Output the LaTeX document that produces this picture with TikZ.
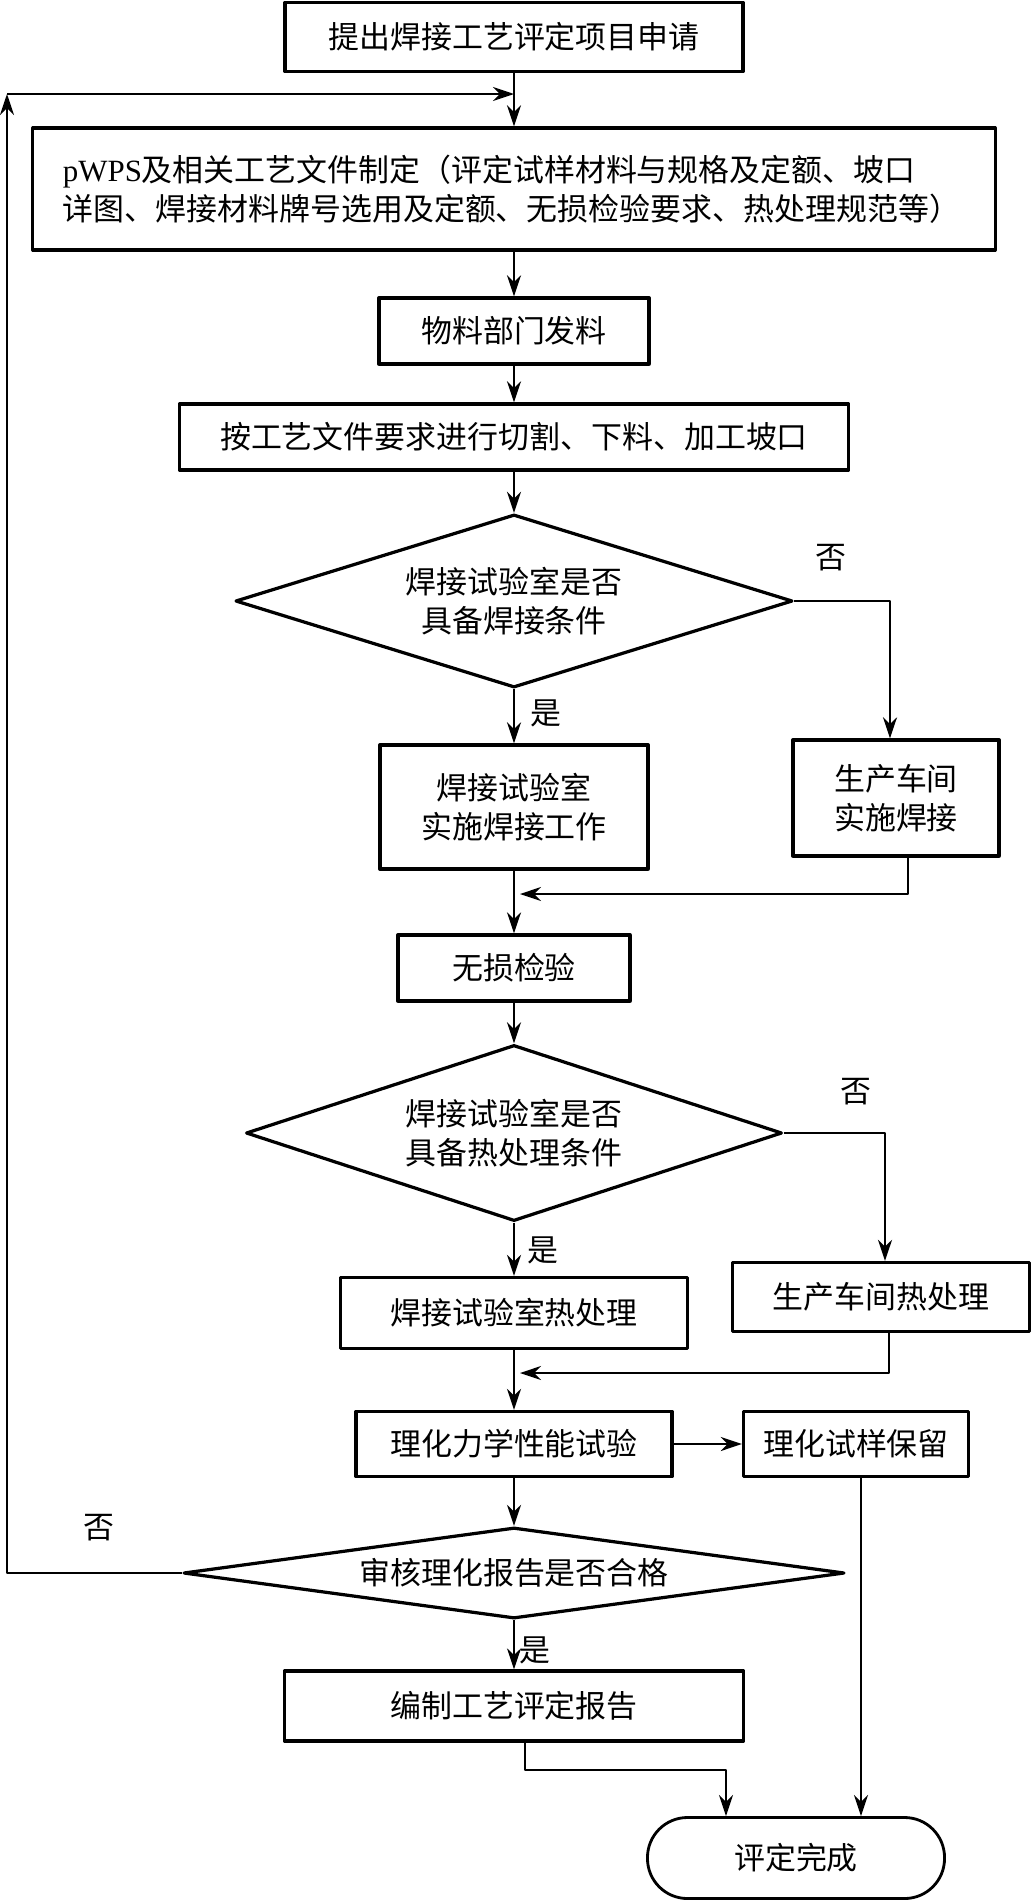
\documentclass[tikz,border=0pt]{standalone}
\usepackage{fontspec}
\setmainfont{Liberation Serif}
\newfontfamily\cjk{Noto Sans CJK SC}
\usetikzlibrary{shapes.geometric,arrows.meta}

\begin{document}
\begin{tikzpicture}[x=0.025cm,y=-0.025cm,line join=round,>={Stealth[length=15pt,width=10pt]},
	font=\cjk\fontsize{22}{28}\selectfont,
	box/.style={draw,line width=2.3pt,rectangle,inner sep=0pt,align=center},
	decision/.style={draw,line width=2.3pt,diamond,inner sep=0pt,align=center},
	terminal/.style={draw,line width=2pt,rectangle,rounded corners=1cm,inner sep=0pt},
	conn/.style={line width=1.4pt}]
		\def \midx{514};
		\useasboundingbox (0,0) rectangle (1032,1900);
		\node[box,minimum width=11.45cm,minimum height=1.725cm] (apply) at (\midx,37) {提出焊接工艺评定项目申请};
		\node[box,minimum width=24.05cm,minimum height=3.05cm,text width=22.55cm,align=left] (pwps) at (\midx,189) {{\rmfamily pWPS}及相关工艺文件制定（评定试样材料与规格及定额、坡口\\详图、焊接材料牌号选用及定额、无损检验要求、热处理规范等）};
		\node[box,minimum width=6.75cm,minimum height=1.65cm] (issue) at (\midx,331) {物料部门发料};
		\node[box,minimum width=16.725cm,minimum height=1.65cm] (cut) at (\midx,437) {按工艺文件要求进行切割、下料、加工坡口};
		\node[decision,minimum width=13.925cm,minimum height=4.325cm,aspect=3.2] (qweld) at (\midx,601) {焊接试验室是否\\具备焊接条件};
		\node[box,minimum width=6.7cm,minimum height=3.1cm] (labweld) at (\midx,807) {焊接试验室\\实施焊接工作};
		\node[box,minimum width=5.15cm,minimum height=2.9cm] (shopweld) at (896,798) {生产车间\\实施焊接};
		\node[box,minimum width=5.8cm,minimum height=1.65cm] (ndt) at (\midx,968) {无损检验};
		\node[decision,minimum width=13.4cm,minimum height=4.4cm,aspect=3] (qheat) at (\midx,1133) {焊接试验室是否\\具备热处理条件};
		\node[box,minimum width=8.675cm,minimum height=1.775cm] (labheat) at (\midx,1313) {焊接试验室热处理};
		\node[box,minimum width=7.425cm,minimum height=1.725cm] (shopheat) at (881,1297) {生产车间热处理};
		\node[box,minimum width=7.9cm,minimum height=1.625cm] (test) at (\midx,1444) {理化力学性能试验};
		\node[box,minimum width=5.625cm,minimum height=1.625cm] (keep) at (856,1444) {理化试样保留};
		\node[decision,minimum width=16.525cm,minimum height=2.275cm,aspect=7.2] (qreport) at (\midx,1573) {审核理化报告是否合格};
		\node[box,minimum width=11.475cm,minimum height=1.75cm] (report) at (\midx,1706) {编制工艺评定报告};
		\node[terminal,minimum width=7.425cm,minimum height=2.025cm] (done) at (796,1858) {评定完成};
		\node (no1) at (831,558) {否};
		\node (yes1) at (546,713) {是};
		\node (no2) at (856,1092) {否};
		\node (yes2) at (543,1250) {是};
		\node (no3) at (99,1528) {否};
		\node (yes3) at (535,1650) {是};
		\coordinate (loop) at (7,94);
		\coordinate (join1) at (520,894);
		\coordinate (join2) at (520,1373);
		\draw[conn,->] (apply) -- (pwps);
		\draw[conn,->] (loop) -- (loop -| apply.south);
		\draw[conn,->] (pwps) -- (issue);
		\draw[conn,->] (issue) -- (cut);
		\draw[conn,->] (cut) -- (qweld);
		\draw[conn,->] (qweld) -- (labweld);
		\draw[conn,->] (qweld.east) -| ([xshift=-0.15cm]shopweld.north);
		\draw[conn,->] (labweld) -- (ndt);
		\draw[conn,->] ([xshift=0.3cm]shopweld.south) |- (join1);
		\draw[conn,->] (ndt) -- (qheat);
		\draw[conn,->] (qheat) -- (labheat);
		\draw[conn,->] (qheat.east) -| ([xshift=0.1cm]shopheat.north);
		\draw[conn,->] ([xshift=0.2cm]shopheat.south) |- (join2);
		\draw[conn,->] (labheat) -- (test);
		\draw[conn,->] (test) -- (keep);
		\draw[conn,->] (test) -- (qreport);
		\draw[conn,->] (qreport.west) -| (loop);
		\draw[conn,->] (qreport) -- (report);
		\draw[conn,->] ([xshift=0.275cm]report.south) -- ++(0,27) -| ([xshift=-1.75cm]done.north);
		\draw[conn,->] ([xshift=0.125cm]keep.south) -- ([xshift=0.125cm]keep.south |- done.north);
\end{tikzpicture}
\end{document}
